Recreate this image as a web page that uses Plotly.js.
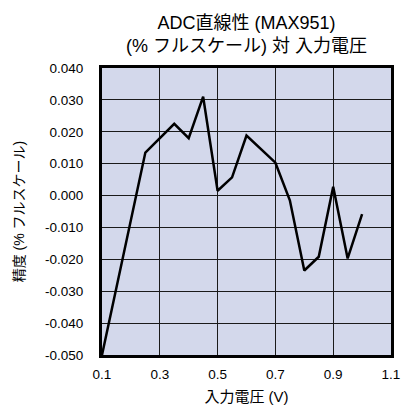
<!DOCTYPE html>
<html>
<head>
<meta charset="utf-8">
<script src="https://cdn.plot.ly/plotly-3.0.1.min.js"></script>
<style>html,body{margin:0;padding:0;background:#fff;}#chart{width:401px;height:407px;}</style>
</head>
<body>
<div id="chart"></div>
<script>
var inputVoltage = [0.1, 0.2, 0.25, 0.35, 0.4, 0.45, 0.5, 0.55, 0.6, 0.7, 0.75, 0.8, 0.85, 0.9, 0.95, 1.0];
var accuracy = [-0.050, -0.008, 0.0135, 0.0225, 0.018, 0.031, 0.0015, 0.0057, 0.0188, 0.0103, -0.0015, -0.0235, -0.0192, 0.0028, -0.0197, -0.0058];
var xTicks = [0.1, 0.3, 0.5, 0.7, 0.9, 1.1];
var yTicks = [-0.05, -0.04, -0.03, -0.02, -0.01, 0, 0.01, 0.02, 0.03, 0.04];

var titleFont = {family: '"Liberation Sans", Arial, "Noto Sans CJK JP", sans-serif', size: 18, color: '#000'};
var tickFont = {family: '"Liberation Sans", Arial, sans-serif', size: 13.5, color: '#000'};
var xTitleFont = {family: '"Liberation Sans", "Noto Sans CJK JP", sans-serif', size: 15, color: '#000'};
var yTitleFont = {family: '"Liberation Sans", "Noto Sans CJK JP", sans-serif', size: 14, color: '#000'};

var trace = {
  x: inputVoltage,
  y: accuracy,
  type: 'scatter',
  mode: 'lines',
  line: {color: '#000', width: 2.5},
  hoverinfo: 'skip'
};

var layout = {
  width: 401,
  height: 407,
  margin: {l: 102, r: 10, t: 68, b: 52},
  paper_bgcolor: '#fff',
  plot_bgcolor: '#d3d8eb',
  showlegend: false,
  title: {
    text: 'ADC直線性 (MAX951)<br>(% フルスケール) 対 入力電圧',
    font: titleFont,
    x: 0.5, xref: 'paper', xanchor: 'center',
    y: 1, yref: 'paper', yanchor: 'bottom',
    pad: {b: 39}
  },
  xaxis: {
    range: [0.1, 1.1],
    tickvals: xTicks,
    ticktext: xTicks.map(function(v){return v.toFixed(1);}),
    tickfont: tickFont,
    ticks: '',
    ticklabelstandoff: 5,
    showgrid: true, gridcolor: '#1a1a1a', gridwidth: 1,
    zeroline: false,
    showline: true, mirror: true, linecolor: '#000', linewidth: 3,
    title: {text: '入力電圧 (V)', font: xTitleFont, standoff: 11}
  },
  yaxis: {
    range: [-0.05, 0.04],
    tickvals: yTicks,
    ticktext: yTicks.map(function(v){return v.toFixed(3);}),
    tickfont: tickFont,
    ticks: '',
    ticklabelstandoff: 13,
    showgrid: true, gridcolor: '#1a1a1a', gridwidth: 1,
    zeroline: false,
    showline: true, mirror: true, linecolor: '#000', linewidth: 3,
    title: {text: '精度 (% フルスケール)', font: yTitleFont, standoff: 18}
  }
};

Plotly.newPlot('chart', [trace], layout, {displayModeBar: false, staticPlot: true});
</script>
</body>
</html>
